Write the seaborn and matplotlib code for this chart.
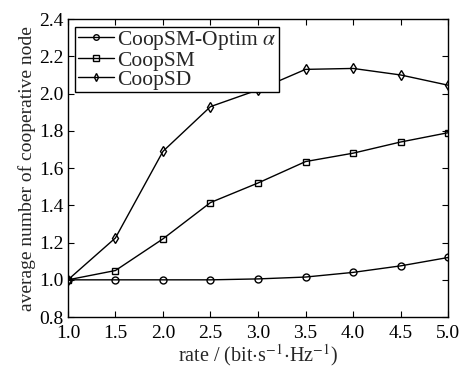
import pandas as pd
import matplotlib
matplotlib.use("Agg")
import matplotlib.pyplot as plt
import seaborn as sns

# data
rate = [1.0, 1.5, 2.0, 2.5, 3.0, 3.5, 4.0, 4.5, 5.0]
optim = [1.0, 1.0, 1.0, 1.0, 1.005, 1.015, 1.04, 1.075, 1.12]
coopsm = [1.0, 1.05, 1.22, 1.415, 1.52, 1.635, 1.68, 1.74, 1.79]
coopsd = [1.0, 1.225, 1.69, 1.93, 2.02, 2.13, 2.135, 2.10, 2.045]
labels = [r"CoopSM-Optim $\alpha$", "CoopSM", "CoopSD"]

sns.set_style("ticks")
plt.rcParams["font.family"] = ["Liberation Serif", "DejaVu Serif"]
plt.rcParams["mathtext.fontset"] = "stix"

df = pd.DataFrame({"rate": rate * 3,
                   "value": optim + coopsm + coopsd,
                   "method": [labels[0]] * 9 + [labels[1]] * 9 + [labels[2]] * 9})

fig = plt.figure(figsize=(4.62, 3.67), dpi=100)
ax = fig.add_axes([0.147, 0.136, 0.823, 0.812])

sns.lineplot(data=df, x="rate", y="value", hue="method", style="method",
             markers=dict(zip(labels, ["o", "s", "d"])), dashes=False,
             palette=["black"] * 3, linewidth=1.0, markersize=5,
             markerfacecolor="none", markeredgecolor="black", markeredgewidth=1.0,
             ax=ax)

ax.set_xlim(1.0, 5.0)
ax.set_ylim(0.8, 2.4)
ax.set_xticks(rate)
ax.set_yticks([0.8, 1.0, 1.2, 1.4, 1.6, 1.8, 2.0, 2.2, 2.4])
ax.xaxis.set_major_formatter(matplotlib.ticker.FormatStrFormatter("%.1f"))
ax.yaxis.set_major_formatter(matplotlib.ticker.FormatStrFormatter("%.1f"))
ax.tick_params(direction="in", top=True, right=True, labelsize=14, length=4,
               colors="black")
ax.tick_params(axis="x", pad=5.5)
ax.tick_params(axis="y", pad=3)
for s in ax.spines.values():
    s.set_visible(True)
    s.set_color("black")
    s.set_linewidth(1.0)

ax.set_xlabel(r"rate / (bit$\cdot$s$^{-1}$$\cdot$Hz$^{-1}$)", fontsize=14.5, labelpad=0)
ax.set_ylabel("average number of cooperative node", fontsize=14, labelpad=2)

leg = ax.legend(loc="upper left", fontsize=15.5, frameon=True, fancybox=False,
                edgecolor="black", framealpha=1, borderpad=0.1, labelspacing=-0.05,
                handlelength=1.7, handletextpad=0.15, borderaxespad=0.35)
leg.get_frame().set_linewidth(1.0)
for h in leg.legend_handles:
    h.set_markersize(4)

fig.savefig("out.png", dpi=100)
